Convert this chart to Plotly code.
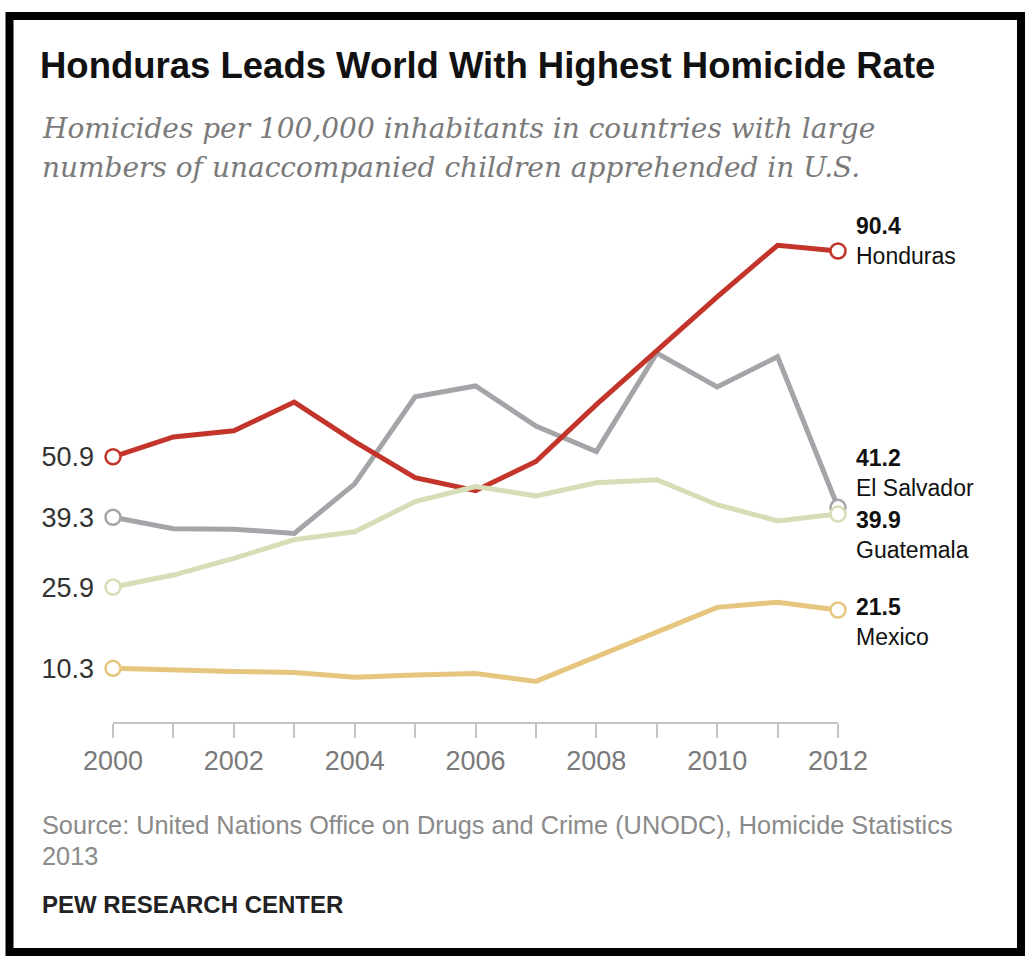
import plotly.graph_objects as go

years = list(range(2000, 2013))
honduras = [50.9, 54.7, 55.9, 61.4, 53.8, 46.9, 44.4, 50.0, 60.9, 71.2, 81.6, 91.5, 90.4]
el_salvador = [39.3, 37.1, 37.0, 36.2, 45.7, 62.4, 64.5, 56.8, 51.9, 70.8, 64.3, 70.1, 41.2]
guatemala = [25.9, 28.2, 31.4, 35.0, 36.5, 42.3, 45.2, 43.4, 45.9, 46.5, 41.7, 38.6, 39.9]
mexico = [10.3, 9.9, 9.7, 9.5, 8.6, 9.0, 9.3, 7.8, 12.6, 17.4, 22.0, 23.0, 21.5]

series_names = ["Mexico", "El Salvador", "Honduras", "Guatemala"]
series_values = [mexico, el_salvador, honduras, guatemala]
series_colors = ["#e6c67e", "#a3a5a9", "#c3342b", "#d5deb6"]

y_tick_values = [50.9, 39.3, 25.9, 10.3]
x_tick_labels = [str(y) if y % 2 == 0 else "" for y in years]

title = "Honduras Leads World With Highest Homicide Rate"
subtitle1 = "Homicides per 100,000 inhabitants in countries with large"
subtitle2 = "numbers of unaccompanied children apprehended in U.S."
source1 = "Source: United Nations Office on Drugs and Crime (UNODC), Homicide Statistics"
source2 = "2013"
credit = "PEW RESEARCH CENTER"

W, H = 1033, 963
L, R, T, B = 113, 195, 227, 241
PW, PH = W - L - R, H - T - B


def px(x):
    return (x - L) / PW


def py(y):
    return (H - B - y) / PH


fig = go.Figure()
for name, vals, col in zip(series_names, series_values, series_colors):
    fig.add_trace(go.Scatter(
        x=years, y=vals, mode="lines", name=name,
        line=dict(color=col, width=5), cliponaxis=False, hoverinfo="skip"))
for name, vals, col in zip(series_names, series_values, series_colors):
    fig.add_trace(go.Scatter(
        x=[years[0], years[-1]], y=[vals[0], vals[-1]], mode="markers",
        marker=dict(size=15, color="white", line=dict(color=col, width=2.5)),
        cliponaxis=False, hoverinfo="skip", showlegend=False))

ann = []
font_sans = "Liberation Sans, Arial, sans-serif"
ann.append(dict(text="<b>" + title + "</b>", x=px(38), y=py(66), xref="paper", yref="paper",
                xanchor="left", yanchor="middle", showarrow=False,
                font=dict(family=font_sans, size=36.5, color="#111")))
for t, base in [(subtitle1, 137), (subtitle2, 177)]:
    ann.append(dict(text="<i>" + t + "</i>", x=px(40), y=py(base - 9), xref="paper", yref="paper",
                    xanchor="left", yanchor="middle", showarrow=False,
                    font=dict(family="DejaVu Serif", size=28, color="#7a7a7a")))
for t, base in [(source1, 833), (source2, 864)]:
    ann.append(dict(text=t, x=px(40), y=py(base - 8), xref="paper", yref="paper",
                    xanchor="left", yanchor="middle", showarrow=False,
                    font=dict(family=font_sans, size=25.3, color="#8a8a8a")))
ann.append(dict(text="<b>" + credit + "</b>", x=px(40), y=py(904), xref="paper", yref="paper",
                xanchor="left", yanchor="middle", showarrow=False,
                font=dict(family=font_sans, size=24, color="#222")))

end_names = ["Honduras", "El Salvador", "Guatemala", "Mexico"]
end_vals = [honduras[-1], el_salvador[-1], guatemala[-1], mexico[-1]]
shifts = [10, 34, -21, -12]
for nm, v, s in zip(end_names, end_vals, shifts):
    ann.append(dict(text="<b>%.1f</b><br>%s" % (v, nm), x=years[-1], y=v, xref="x", yref="y",
                    xanchor="left", yanchor="middle", align="left", xshift=16, yshift=s,
                    showarrow=False, font=dict(family=font_sans, size=23, color="#111")))

fig.update_layout(
    width=W, height=H, margin=dict(l=L, r=R, t=T, b=B),
    paper_bgcolor="white", plot_bgcolor="white", showlegend=False,
    annotations=ann,
    shapes=[dict(type="rect", xref="paper", yref="paper",
                 x0=px(9.5), x1=px(1021), y0=py(16), y1=py(952),
                 line=dict(color="black", width=8), fillcolor="rgba(0,0,0,0)")],
    xaxis=dict(range=[2000, 2012], tickvals=years, ticktext=x_tick_labels,
               showgrid=False, zeroline=False, showline=True, linecolor="#c4c4c4", linewidth=2,
               ticks="outside", ticklen=14, tickwidth=2, tickcolor="#c4c4c4",
               tickfont=dict(family=font_sans, size=27, color="#7a7a7a")),
    yaxis=dict(range=[0, 95], tickvals=y_tick_values, ticktext=["%.1f" % v for v in y_tick_values],
               showgrid=False, zeroline=False, showline=False, ticks="",
               ticklabelstandoff=18,
               tickfont=dict(family=font_sans, size=27, color="#333")),
)

fig.write_html("out.html", post_script="document.body.style.margin='0px';",
               config={"displayModeBar": False})
